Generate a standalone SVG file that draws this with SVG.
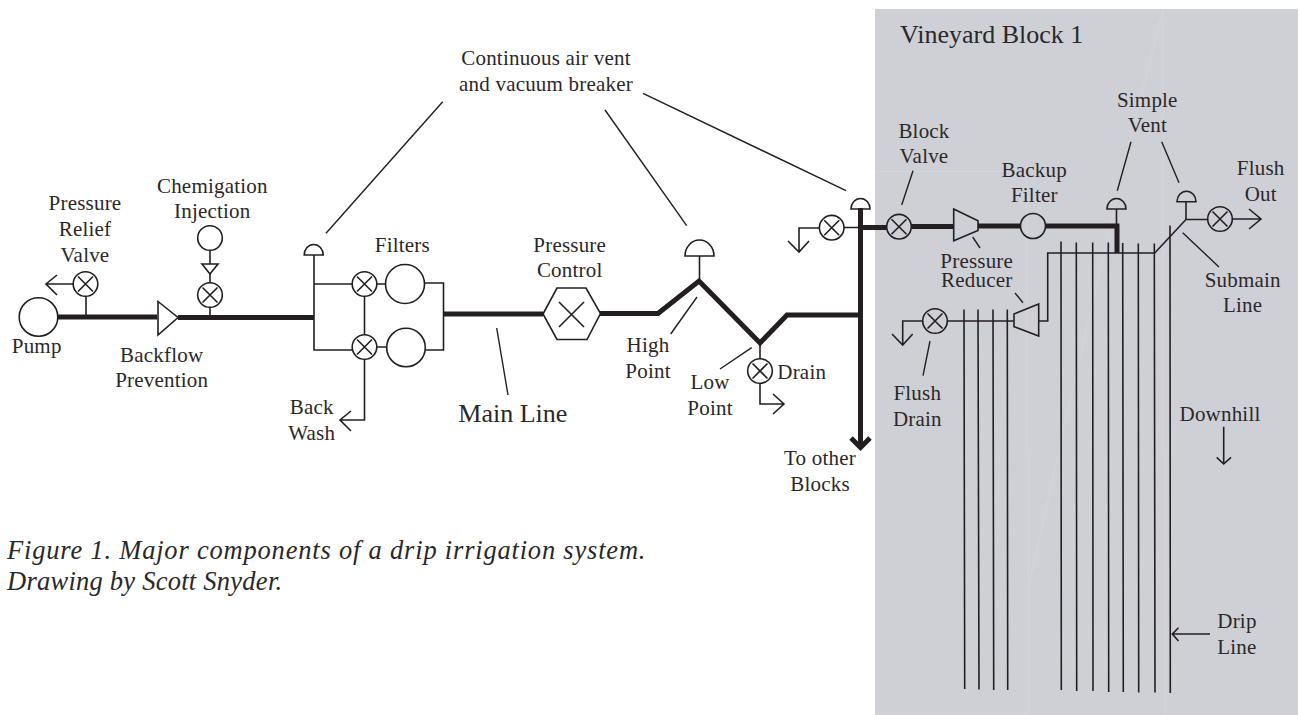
<svg xmlns="http://www.w3.org/2000/svg" width="1299" height="715" viewBox="0 0 1299 715">
<style>
text{font-family:"Liberation Serif","Times New Roman",serif;font-size:21px;fill:#2b2829;text-anchor:middle;letter-spacing:.2px}
.s{text-anchor:start}
.big{font-size:26px;letter-spacing:0}
.cap{font-size:26.5px;font-style:italic;text-anchor:start;letter-spacing:.8px}
.cap2{letter-spacing:.25px}
.t,.k,.l,.a,.n{fill:none;stroke:#231f20;stroke-linecap:butt;stroke-linejoin:miter}
.k{stroke-width:5}
.t{stroke-width:1.6}
.l{stroke-width:1.4}
.a{stroke-width:1.6}
.n{stroke-width:1.6}
</style>
<defs>
<g id="valve"><circle class="n" r="12.3"/><path class="n" d="M-7.5-7.5 7.5 7.5M-7.5 7.5 7.5-7.5"/></g>
<path id="dome" class="n" d="M-9.5 0A9.5 10.500 0 0 1 9.500 0Z"/>
</defs>
<rect id="block-area" x="875" y="9" width="423" height="706" fill="#cfd0d6"/>
<path id="sheet-marks" d="M875 171.500H1003M1163 9V450M1165 450V715M1027 160V450M1028.700 450V713H875M1163 9L1130 140L1061 440L1029 586" fill="none" stroke="#d6d7dc" stroke-width=".8"/>

<g id="connectors">
<path class="k" d="M58 317H157M178 317.500H314M443 314H543M600 313.500H658L699 281L760 343L787 315H858"/>
<path class="k" d="M860.500 208V446M851 438L860.500 447.500L870 438"/>
<path class="k" d="M860 227.500H887M911 226.500H954M978 226H1021M1045 226H1117V253"/>
<path class="t" d="M86 296V315M73.500 284H46M57 275L46 284L57 295"/>
<path class="t" d="M210 250.500V264M210 274V283M210 307V315"/>
<path class="t" d="M314 255V350H353M314 284H352"/>
<path class="t" d="M364.500 296V335M364.500 359V420H340M351 411L340 420L351 431"/>
<path class="t" d="M377 284H385M377 347H387M424.500 283H443.500V350H425.500"/>
<path class="t" d="M699.500 256V281M760 345V359M760 383V404H784M773 394L784 404L773 414"/>
<path class="t" d="M844 227.500H860M819.500 228H799V252M788 241L799 252L809 241"/>
<path class="t" d="M1116.500 209V225M1186 202V219.500"/>
<path class="t" d="M1207.500 219.500H1186L1154.700 253H1047.700V321H1038.700M1014 321H947.500M922.500 321H902.700V345M892 334L902.700 345L912.700 334"/>
<path class="a" d="M1232.500 219H1261M1249 209L1261 219L1249 229"/>
<g id="drip-lines">
<path class="t" d="M964 309.500L964.700 689M978 309.500L979 689.500M993 309.500L993.700 690M1007.300 309.500L1007.700 690"/>
<path class="t" d="M1061 241.500L1061.300 690M1076.300 242.500L1076.700 691M1092.700 242.500L1093 691M1108.300 242.500L1108.700 692M1122.700 243L1123.300 692M1138.300 243.500L1138.700 692.500M1154.300 243.500L1155 692.500M1170 225.500L1170.300 693"/>
</g>
<path class="l" d="M442.700 101.700L326 233.300M605 110L686.700 225.700M643 93.300L846 190.700"/>
<path class="l" d="M697 297L670.700 334M751.700 347.700L720 369M496.700 328L508 395"/>
<path class="l" d="M972.700 237L980 248M1015 293L1023 302.700M913 170.700L901.700 205M1131 141.700L1117.300 190.700M1161.700 141.700L1179 182.700M1182.700 232.700L1219 267M930 341L923 375.700"/>
<path class="a" d="M1223.700 426.700V463M1216.700 457.300L1223.700 464L1231 457.300"/>
<path class="a" d="M1210 634H1173M1178.500 627.700L1172.300 634L1178.500 641"/>
</g>

<g id="pump"><circle class="n" cx="38.500" cy="317" r="19.300"/><text x="36.700" y="353">Pump</text></g>
<g id="relief-valve"><use href="#valve" x="85.500" y="284"/><text x="85" y="210">Pressure</text><text x="85" y="236">Relief</text><text x="85" y="261.700">Valve</text></g>
<g id="backflow"><path class="n" d="M158 301.500L178 317.500L158 335Z"/><text x="161.700" y="361.700">Backflow</text><text x="161.700" y="386.700">Prevention</text></g>
<g id="chemigation"><circle class="n" cx="210" cy="238" r="12.300"/><path class="n" d="M202 264H218L210 274Z"/><use href="#valve" x="210" y="295"/><text x="212.300" y="193">Chemigation</text><text x="212.300" y="218">Injection</text></g>
<g id="vent-filters"><use href="#dome" x="313.700" y="255"/></g>
<g id="filter-valve-1"><use href="#valve" x="364.500" y="284"/></g>
<g id="filter-valve-2"><use href="#valve" x="364.500" y="347"/></g>
<g id="filter-1"><circle class="n" cx="405" cy="284" r="19.500"/><text x="402.300" y="251.700">Filters</text></g>
<g id="filter-2"><circle class="n" cx="406" cy="347.500" r="19.300"/></g>
<g id="back-wash"><text x="311.700" y="414">Back</text><text x="311.700" y="440">Wash</text></g>
<g id="main-line"><text class="s big" x="458.300" y="421.700">Main Line</text></g>
<g id="pressure-control"><path class="n" d="M543 314L557 288H586L600.500 313.500L587 339.500H557Z"/><path class="n" d="M559 302L584 327M559 327L584 302"/><text x="569.700" y="251.700">Pressure</text><text x="569.700" y="277">Control</text></g>
<g id="vent-high"><path class="n" d="M685 256A14.500 16 0 0 1 714 256Z"/><text x="648" y="351.700">High</text><text x="648" y="377.700">Point</text></g>
<g id="drain"><use href="#valve" x="760" y="371"/><text class="s" x="777.300" y="379">Drain</text><text x="710" y="389.300">Low</text><text x="710" y="415">Point</text></g>
<g id="air-vent-label"><text x="546" y="65">Continuous air vent</text><text x="546" y="90.700">and vacuum breaker</text></g>
<g id="block-drain"><use href="#valve" x="831.700" y="227.700"/></g>
<g id="vent-block"><use href="#dome" x="860.500" y="209"/></g>
<g id="to-other"><text x="820" y="465">To other</text><text x="820" y="490.500">Blocks</text></g>
<g id="vineyard-label"><text class="s big" x="900" y="42.700">Vineyard Block 1</text></g>
<g id="block-valve"><use href="#valve" x="899" y="226.700"/><text x="924" y="137.700">Block</text><text x="924" y="163.300">Valve</text></g>
<g id="reducer-1"><path class="n" d="M953.700 209L978 220.700V230.500L953.700 240.700Z"/><text x="976.700" y="267.700">Pressure</text><text x="976.700" y="286.700">Reducer</text></g>
<g id="backup-filter"><circle class="n" cx="1033" cy="226" r="12.500"/><text x="1034.300" y="176.700">Backup</text><text x="1034.300" y="201.700">Filter</text></g>
<g id="vent-simple-1"><use href="#dome" x="1116.500" y="209"/></g>
<g id="vent-simple-2"><use href="#dome" x="1186.500" y="201.700"/><text x="1147.300" y="106.700">Simple</text><text x="1147.300" y="132.300">Vent</text></g>
<g id="flush-out"><use href="#valve" x="1220" y="219"/><text x="1260.700" y="175">Flush</text><text x="1260.700" y="201">Out</text></g>
<g id="submain"><text x="1242.700" y="286.700">Submain</text><text x="1242.700" y="311.700">Line</text></g>
<g id="reducer-2"><path class="n" d="M1038.700 304L1014 314V326.700L1038.700 336Z"/></g>
<g id="flush-drain"><use href="#valve" x="935" y="321"/><text x="917.300" y="400">Flush</text><text x="917.300" y="425.700">Drain</text></g>
<g id="downhill"><text x="1220" y="421">Downhill</text></g>
<g id="drip-line"><text class="s" x="1217.300" y="628.300">Drip</text><text class="s" x="1217.300" y="654">Line</text></g>
<g id="caption"><text class="cap" x="7" y="558.500">Figure 1. Major components of a drip irrigation system.</text><text class="cap cap2" x="7" y="590">Drawing by Scott Snyder.</text></g>
</svg>
